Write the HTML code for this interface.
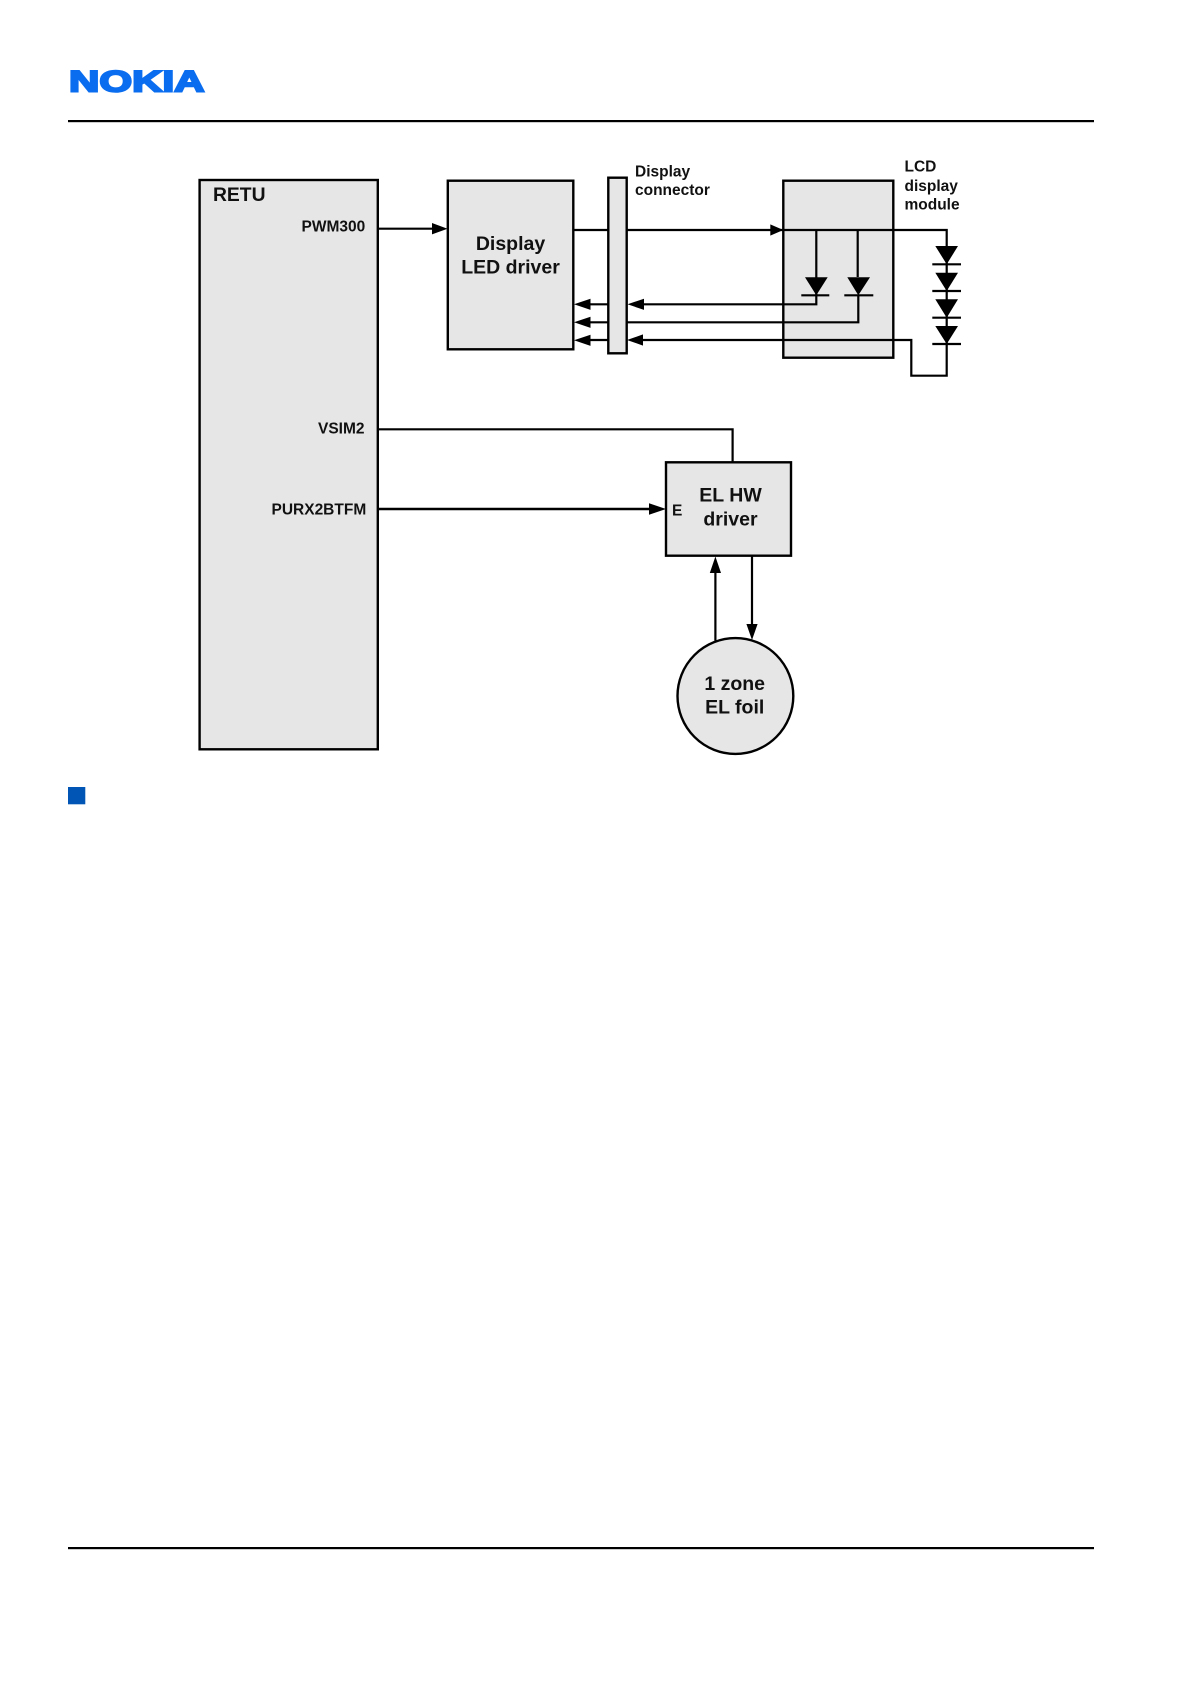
<!DOCTYPE html>
<html lang="en">
<head>
<meta charset="utf-8">
<title>Display and EL driver block diagram</title>
<style>
html,body{margin:0;padding:0;background:#fff;}
svg{display:block;}
text{font-family:"Liberation Sans",Arial,sans-serif;font-weight:bold;fill:#111;}
.s{font-size:15.5px;}
.m{font-size:19.5px;}
.box{fill:#e6e6e6;stroke:#000;stroke-width:2.4;}
.ln{fill:none;stroke:#000;stroke-width:2.2;}
.ah{fill:#000;stroke:none;}
</style>
</head>
<body>
<svg width="1191" height="1684" viewBox="0 0 1191 1684" xmlns="http://www.w3.org/2000/svg">
<rect width="1191" height="1684" fill="#fff"/>

<!-- header / footer -->
<text x="69" y="91.7" font-size="30" textLength="135.5" lengthAdjust="spacingAndGlyphs" style="fill:#0a6df0;stroke:#0a6df0;stroke-width:2">NOKIA</text>
<rect x="68" y="120" width="1026" height="2.2" fill="#000"/>
<rect x="68" y="1547" width="1026" height="2.2" fill="#000"/>
<rect x="68" y="787" width="17.3" height="17.3" fill="#0055b5"/>

<!-- boxes -->
<rect class="box" x="199.6" y="180" width="178.2" height="569.3"/>
<rect class="box" x="447.8" y="180.7" width="125.5" height="168.6"/>
<rect class="box" x="608.3" y="177.7" width="18.4" height="175.6"/>
<rect class="box" x="783.3" y="180.7" width="110" height="177"/>
<rect class="box" x="666" y="462.3" width="125" height="93.4"/>
<circle class="box" cx="735.4" cy="696" r="57.9"/>

<!-- connectors -->
<path class="ln" d="M378 228.7H435"/>
<path class="ah" d="M447.5 228.7L432 223V234.4Z"/>

<path class="ln" d="M573.3 230H608.3M626.7 230H946.7V375.7H911.3V340H640"/>
<path class="ah" d="M783.3 230L770.3 224.4V235.6Z"/>

<path class="ln" d="M816.3 230V304.3H640"/>
<path class="ln" d="M857.7 230V277M858.3 295V322.3H626.7"/>
<path class="ln" d="M590 304.3H608.3M590 322.3H608.3M590 340H608.3"/>

<path class="ah" d="M627.5 304.3L644 298.7V309.9Z"/>
<path class="ah" d="M627 340L643 334.4V345.6Z"/>
<path class="ah" d="M574 304.3L590.5 298.7V309.9Z"/>
<path class="ah" d="M574 322.3L590.5 316.7V327.9Z"/>
<path class="ah" d="M574 340.3L590.5 334.7V345.9Z"/>

<!-- inner diodes -->
<path class="ah" d="M805 277.3H827.7L816.3 295.3Z"/>
<path class="ln" d="M801.3 295.3H829.3"/>
<path class="ah" d="M847.3 277.3H870L858.3 295.3Z"/>
<path class="ln" d="M844.3 295.3H873.3"/>

<!-- outer diode chain -->
<path class="ah" d="M935.3 246H958L946.7 264.3Z"/>
<path class="ln" d="M932.3 264.3H961"/>
<path class="ah" d="M935.3 272.7H958L946.7 291Z"/>
<path class="ln" d="M932.3 291H961"/>
<path class="ah" d="M935.3 299.3H958L946.7 317.7Z"/>
<path class="ln" d="M932.3 317.7H961"/>
<path class="ah" d="M935.3 326H958L946.7 344Z"/>
<path class="ln" d="M932.3 344H961"/>

<!-- lower connectors -->
<path class="ln" d="M378 429.3H732.6V462.3"/>
<path class="ln" d="M378 509H652" style="stroke-width:2.5"/>
<path class="ah" d="M666 509L649 503.2V514.8Z"/>
<path class="ln" d="M715.4 640.7V570"/>
<path class="ah" d="M715.4 556.5L709.8 573H721Z"/>
<path class="ln" d="M752 555.7V627"/>
<path class="ah" d="M752 640L746.4 624H757.6Z"/>

<!-- labels -->
<text x="213" y="201" font-size="19.3">RETU</text>
<text class="s" x="301.5" y="231.7">PWM300</text>
<text class="s" x="318" y="433.7">VSIM2</text>
<text class="s" x="271.5" y="514.3">PURX2BTFM</text>
<text class="m" x="510.5" y="250" text-anchor="middle">Display</text>
<text class="m" x="510.5" y="273.3" text-anchor="middle">LED driver</text>
<text class="s" x="635" y="176.7">Display</text>
<text class="s" x="635" y="195">connector</text>
<text class="s" x="904.5" y="171.7">LCD</text>
<text class="s" x="904.5" y="191">display</text>
<text class="s" x="904.5" y="209.3">module</text>
<text class="s" x="672" y="515.7">E</text>
<text class="m" x="730.5" y="501.3" text-anchor="middle">EL HW</text>
<text class="m" x="730.5" y="525.3" text-anchor="middle">driver</text>
<text class="m" x="734.7" y="690" text-anchor="middle">1 zone</text>
<text class="m" x="734.7" y="713.3" text-anchor="middle">EL foil</text>
</svg>
</body>
</html>
